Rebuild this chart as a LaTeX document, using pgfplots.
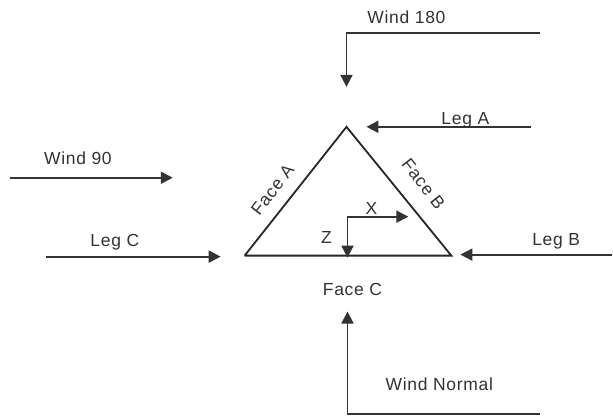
\documentclass[border=0pt]{standalone}
\usepackage{pgfplots}
\pgfplotsset{compat=1.18}
\usepackage{fontspec}
\setmainfont{Liberation Sans}[LetterSpace=4]
\usetikzlibrary{arrows.meta}
\definecolor{ln}{HTML}{333333}
\begin{document}
\begin{tikzpicture}
\begin{axis}[
  width=613pt, height=417pt, scale only axis,
  xmin=0, xmax=613, ymin=0, ymax=417, y dir=reverse,
  hide axis, clip=false,
]
\path[fill=white] (rel axis cs:0,0) rectangle (rel axis cs:1,1);
\tikzset{arr/.style={draw=ln, line width=1.8pt, -{Triangle[length=12pt,width=12pt]}},
  lab/.style={text=ln, font=\fontsize{17.5}{20}\selectfont, inner sep=1pt}}
% triangle
\addplot[black!85, line width=1.8pt, no marks, line join=miter] coordinates {(245,256) (347,127) (452,256) (245,256)};
% Wind 180
\addplot[arr, no marks] coordinates {(541,33) (347,33) (347,87)};
% Leg A
\addplot[arr, no marks] coordinates {(532,127) (367,127)};
% Wind 90
\addplot[arr, no marks] coordinates {(10,178) (173,178)};
% Leg C
\addplot[arr, no marks] coordinates {(46,257) (221,257)};
% Leg B
\addplot[arr, no marks] coordinates {(613,255) (461,255)};
% Wind Normal
\addplot[arr, no marks] coordinates {(541,415) (348,415) (348,312)};
% X / Z axes
\addplot[arr, no marks] coordinates {(348,217) (409,217)};
\addplot[arr, no marks] coordinates {(348,217) (348,258)};
\node[lab] at (axis cs:407,17) {Wind 180};
\node[lab, anchor=base] at (axis cs:466,125) {Leg A};
\node[lab] at (axis cs:78,158) {Wind 90};
\node[lab] at (axis cs:115,243) {Leg C};
\node[lab] at (axis cs:557,242) {Leg B};
\node[lab] at (axis cs:353,290) {Face C};
\node[lab] at (axis cs:440,385) {Wind Normal};
\node[lab, rotate=52] at (axis cs:273,190) {Face A};
\node[lab, rotate=-52] at (axis cs:424,184) {Face B};
\node[lab] at (axis cs:372,209) {X};
\node[lab] at (axis cs:327,238) {Z};
\end{axis}
\end{tikzpicture}
\end{document}
